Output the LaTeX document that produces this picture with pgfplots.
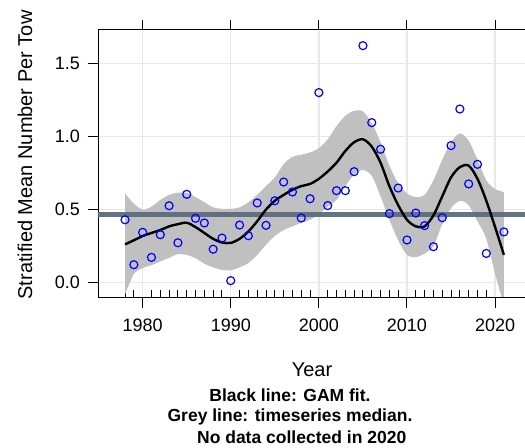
\documentclass[border=0pt]{standalone}
\usepackage{pgfplots}
\pgfplotsset{compat=1.18}
\usepgfplotslibrary{fillbetween}
\usepackage{fontspec}
\setmainfont{Liberation Sans}
\definecolor{medcol}{RGB}{92,107,125}
\definecolor{gridcol}{RGB}{232,232,232}
\definecolor{bandcol}{RGB}{192,192,192}
\begin{document}
\begin{tikzpicture}
\begin{axis}[
  at={(0,0)}, anchor=south west,
  scale only axis, width=429bp, height=267bp,
  xmin=1974.93, xmax=2023.62, ymin=-0.0977, ymax=1.727,
  xtick={1980,1990,2000,2010,2020},
  ytick={0,0.5,1.0,1.5},
  yticklabels={0.0,0.5,1.0,1.5},
  xticklabels={1980,1990,2000,2010,2020},
  minor xtick={1978,1979,1981,1982,1983,1984,1985,1986,1987,1988,1989,1991,1992,1993,1994,1995,1996,1997,1998,1999,2001,2002,2003,2004,2005,2006,2007,2008,2009,2011,2012,2013,2014,2015,2016,2017,2018,2019,2021},
  xtick pos=bottom, ytick pos=left,
  tick align=outside,
  major tick length=10.5bp, minor tick length=7bp,
  minor x tick style={yshift=7bp},
  tick style={black, line width=1bp},
  axis line style={black, line width=1bp},
  grid=major,
  major grid style={gridcol, line width=1.3bp},
  /pgf/number format/assume math mode=true,
  tick label style={font=\fontsize{18bp}{20bp}\selectfont},
  xticklabel style={yshift=-8bp},
  yticklabel style={xshift=-4bp},
]
\addplot[name path=U, draw=none, smooth] coordinates {
(1978,0.61)(1979,0.54)(1980,0.50)(1981,0.52)(1982,0.565)(1983,0.60)(1984,0.615)(1985,0.615)(1986,0.585)(1987,0.55)(1988,0.515)(1989,0.505)(1990,0.505)(1991,0.515)(1992,0.55)(1993,0.60)(1994,0.66)(1995,0.72)(1996,0.81)(1997,0.86)(1998,0.875)(1999,0.89)(2000,0.92)(2001,0.98)(2002,1.07)(2003,1.14)(2004,1.175)(2005,1.17)(2006,1.09)(2007,0.96)(2008,0.80)(2009,0.68)(2010,0.61)(2011,0.585)(2012,0.60)(2013,0.70)(2014,0.84)(2015,0.96)(2016,1.02)(2017,0.97)(2018,0.84)(2019,0.70)(2020,0.64)(2021,0.62)};
\addplot[name path=L, draw=none, smooth] coordinates {
(1978,-0.08)(1979,0.06)(1980,0.10)(1981,0.12)(1982,0.145)(1983,0.17)(1984,0.195)(1985,0.19)(1986,0.167)(1987,0.13)(1988,0.105)(1989,0.087)(1990,0.085)(1991,0.105)(1992,0.135)(1993,0.19)(1994,0.26)(1995,0.32)(1996,0.36)(1997,0.385)(1998,0.41)(1999,0.43)(2000,0.47)(2001,0.52)(2002,0.565)(2003,0.66)(2004,0.74)(2005,0.77)(2006,0.73)(2007,0.59)(2008,0.43)(2009,0.29)(2010,0.19)(2011,0.175)(2012,0.20)(2013,0.25)(2014,0.40)(2015,0.51)(2016,0.56)(2017,0.53)(2018,0.42)(2019,0.30)(2020,0.06)(2021,-0.15)};
\addplot[bandcol, draw=none] fill between[of=U and L];
\addplot[medcol, line width=5bp, opacity=0.95] coordinates {(1974.93,0.467)(2023.62,0.467)};
\addplot[black, line width=2.4bp, smooth] coordinates {
(1978,0.262)(1979,0.29)(1980,0.319)(1981,0.34)(1982,0.36)(1983,0.385)(1984,0.40)(1985,0.41)(1986,0.38)(1987,0.34)(1988,0.30)(1989,0.275)(1990,0.272)(1991,0.30)(1992,0.35)(1993,0.42)(1994,0.50)(1995,0.56)(1996,0.60)(1997,0.635)(1998,0.66)(1999,0.675)(2000,0.71)(2001,0.76)(2002,0.82)(2003,0.90)(2004,0.96)(2005,0.98)(2006,0.93)(2007,0.82)(2008,0.66)(2009,0.53)(2010,0.43)(2011,0.385)(2012,0.385)(2013,0.46)(2014,0.59)(2015,0.72)(2016,0.79)(2017,0.80)(2018,0.71)(2019,0.56)(2020,0.38)(2021,0.19)};
\addplot[only marks, mark=o, blue, mark size=4bp, line width=1.2bp] coordinates {
(1978,0.43)(1979,0.123)(1980,0.344)(1981,0.173)(1982,0.328)(1983,0.526)(1984,0.273)(1985,0.604)(1986,0.44)(1987,0.408)(1988,0.229)(1989,0.305)(1990,0.014)(1991,0.394)(1992,0.321)(1993,0.545)(1994,0.392)(1995,0.56)(1996,0.688)(1997,0.62)(1998,0.442)(1999,0.574)(2000,1.299)(2001,0.527)(2002,0.629)(2003,0.629)(2004,0.759)(2005,1.62)(2006,1.094)(2007,0.912)(2008,0.472)(2009,0.647)(2010,0.292)(2011,0.476)(2012,0.39)(2013,0.246)(2014,0.444)(2015,0.937)(2016,1.187)(2017,0.675)(2018,0.809)(2019,0.20)(2021,0.347)};
\end{axis}
\begin{axis}[
  at={(0,0)}, anchor=south west,
  scale only axis, width=429bp, height=267bp,
  xmin=1974.93, xmax=2023.62, ymin=-0.0977, ymax=1.727,
  axis x line*=top, axis y line=none,
  xtick={1980,1990,2000,2010,2020}, xticklabels={},
  tick align=outside, major tick length=10bp,
  tick style={black, line width=1bp},
  x axis line style={black, line width=1bp, -},
]
\end{axis}
\node[rotate=90, font=\fontsize{20bp}{22bp}\selectfont] at (-73bp,142bp) {Stratified Mean Number Per Tow};
\node[anchor=base, font=\fontsize{20bp}{22bp}\selectfont] at (214bp,-79.7bp) {Year};
\node[anchor=base, font=\fontsize{17.5bp}{20bp}\selectfont\bfseries] at (192bp,-104.7bp) {Black line: GAM fit.};
\node[anchor=base, font=\fontsize{17.5bp}{20bp}\selectfont\bfseries] at (192bp,-124.8bp) {Grey line: timeseries median.};
\node[anchor=base, font=\fontsize{17.5bp}{20bp}\selectfont\bfseries] at (203.7bp,-146bp) {No data collected in 2020};
\pgfresetboundingbox
\path[use as bounding box] (-98bp,-151bp) rectangle (427bp,297bp);
\end{tikzpicture}
\end{document}
